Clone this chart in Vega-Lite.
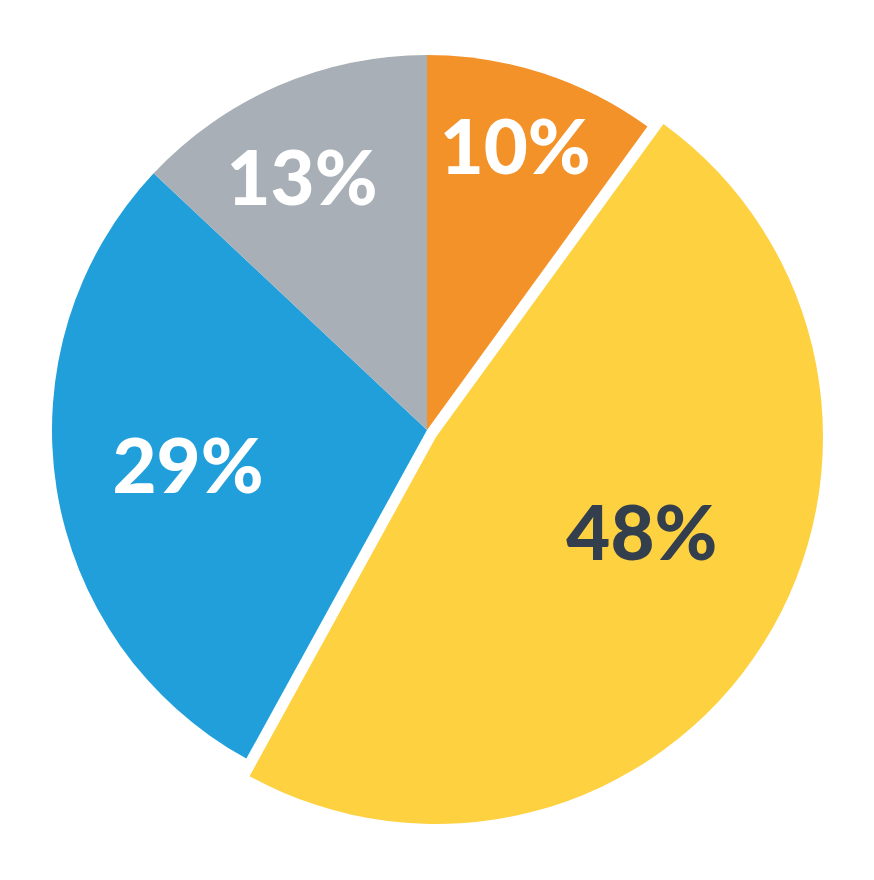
{
  "$schema": "https://vega.github.io/schema/vega-lite/v6.json",
  "width": 854,
  "height": 860,
  "autosize": "none",
  "padding": 0,
  "background": "white",
  "view": {"stroke": null},
  "data": {"values": [
    {"k": 1, "slice": "A", "value": 10, "label": "10%"},
    {"k": 2, "slice": "B", "value": 48, "label": "48%"},
    {"k": 3, "slice": "C", "value": 29, "label": "29%"},
    {"k": 4, "slice": "D", "value": 13, "label": "13%"}
  ]},
  "encoding": {
    "theta": {"field": "value", "type": "quantitative", "stack": true, "scale": {"domain": [0, 100]}},
    "order": {"field": "k", "type": "quantitative"}
  },
  "layer": [
    {
      "mark": {"type": "arc", "outerRadius": 375},
      "encoding": {
        "color": {"field": "slice", "type": "nominal", "legend": null,
          "scale": {"domain": ["A", "B", "C", "D"], "range": ["#F39229", "#FED140", "#209FDA", "#A8AFB6"]}},
        "opacity": {"condition": {"test": "datum.slice == 'B'", "value": 0}, "value": 1}
      }
    },
    {
      "mark": {"type": "arc", "outerRadius": 387, "xOffset": 9, "yOffset": 7},
      "encoding": {
        "color": {"field": "slice", "type": "nominal", "legend": null},
        "opacity": {"condition": {"test": "datum.slice == 'B'", "value": 1}, "value": 0}
      }
    },
    {
      "mark": {"type": "text", "radius": 295, "dx": -3, "dy": 2, "font": "Lato", "fontWeight": 900, "fontSize": 76, "fill": "white", "align": "center", "baseline": "middle"},
      "encoding": {
        "text": {"field": "label"},
        "opacity": {"condition": {"test": "datum.slice == 'A'", "value": 1}, "value": 0}
      }
    },
    {
      "mark": {"type": "text", "radius": 277, "dx": -15, "dy": 6, "font": "Lato", "fontWeight": 900, "fontSize": 76, "fill": "white", "align": "center", "baseline": "middle"},
      "encoding": {
        "text": {"field": "label"},
        "opacity": {"condition": {"test": "datum.slice == 'D'", "value": 1}, "value": 0}
      }
    },
    {
      "mark": {"type": "text", "radius": 242, "dy": 2, "font": "Lato", "fontWeight": 900, "fontSize": 76, "fill": "white", "align": "center", "baseline": "middle"},
      "encoding": {
        "text": {"field": "label"},
        "opacity": {"condition": {"test": "datum.slice == 'C'", "value": 1}, "value": 0}
      }
    },
    {
      "mark": {"type": "text", "radius": 226, "dx": 24, "dy": -14, "font": "Lato", "fontWeight": 900, "fontSize": 76, "fill": "#333F4C", "align": "center", "baseline": "middle"},
      "encoding": {
        "text": {"field": "label"},
        "opacity": {"condition": {"test": "datum.slice == 'B'", "value": 1}, "value": 0}
      }
    }
  ]
}
